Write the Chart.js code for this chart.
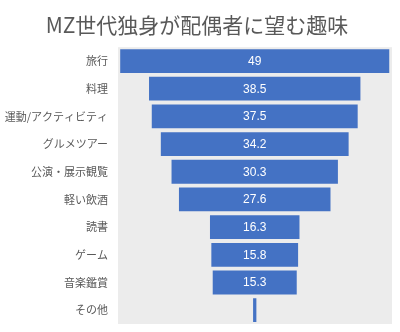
<!DOCTYPE html>
<html>
<head>
<meta charset="utf-8">
<script src="https://cdn.jsdelivr.net/npm/chart.js@4"></script>
<style>
html,body{margin:0;padding:0;background:#fff;}
#wrap{width:400px;height:332px;position:relative;}
</style>
</head>
<body>
<div id="wrap"><canvas id="c" width="400" height="332"></canvas></div>
<script>
const categories = ["旅行","料理","運動/アクティビティ","グルメツアー","公演・展示観覧","軽い飲酒","読書","ゲーム","音楽鑑賞","その他"];
const values = [49, 38.5, 37.5, 34.2, 30.3, 27.6, 16.3, 15.8, 15.3, 0.6];
const valueLabels = ["49","38.5","37.5","34.2","30.3","27.6","16.3","15.8","15.3",""];
const titleText = "MZ世代独身が配偶者に望む趣味";

const maxV = Math.max(...values);
const floating = values.map(v => [(maxV - v) / 2, (maxV + v) / 2]);

const plotBg = {
  id: 'plotBg',
  beforeDraw(chart) {
    const {ctx, chartArea: a} = chart;
    ctx.save();
    ctx.fillStyle = '#ECECEC';
    ctx.fillRect(a.left, a.top, a.right - a.left, a.bottom - a.top);
    ctx.restore();
  }
};
const barLabels = {
  id: 'barLabels',
  afterDatasetsDraw(chart) {
    const {ctx} = chart;
    const meta = chart.getDatasetMeta(0);
    ctx.save();
    ctx.fillStyle = '#FFFFFF';
    ctx.font = '12px "Liberation Sans", "Noto Sans", sans-serif';
    ctx.textAlign = 'center';
    ctx.textBaseline = 'middle';
    meta.data.forEach((bar, i) => {
      const t = valueLabels[i];
      if (!t) return;
      const cx = (bar.x + bar.base) / 2;
      ctx.fillText(t, cx, bar.y + 0.5);
    });
    ctx.restore();
  }
};

new Chart(document.getElementById('c'), {
  type: 'bar',
  data: {
    labels: categories,
    datasets: [{
      data: floating,
      backgroundColor: '#4472C4',
      borderWidth: 0,
      barPercentage: 0.86,
      categoryPercentage: 1.0
    }]
  },
  options: {
    indexAxis: 'y',
    responsive: false,
    animation: false,
    layout: { padding: { left: 2, right: 8, top: 0, bottom: 8 } },
    plugins: {
      legend: { display: false },
      tooltip: { enabled: false },
      title: {
        display: true,
        text: titleText,
        color: '#595959',
        font: { family: '"Noto Sans CJK JP", sans-serif', size: 21, weight: 'normal' },
        padding: { top: 12, bottom: 10 }
      }
    },
    scales: {
      x: {
        display: false,
        min: -0.4,
        max: 49.5
      },
      y: {
        grid: { display: false, drawTicks: false },
        border: { display: false },
        ticks: {
          color: '#595959',
          font: { family: '"Noto Sans CJK JP", sans-serif', size: 11 },
          padding: 10,
          autoSkip: false
        },
        afterFit(scale) {
          scale.width = 116;
          scale.paddingTop = 0;
          scale.paddingBottom = 0;
        }
      }
    }
  },
  plugins: [plotBg, barLabels]
});
</script>
</body>
</html>
